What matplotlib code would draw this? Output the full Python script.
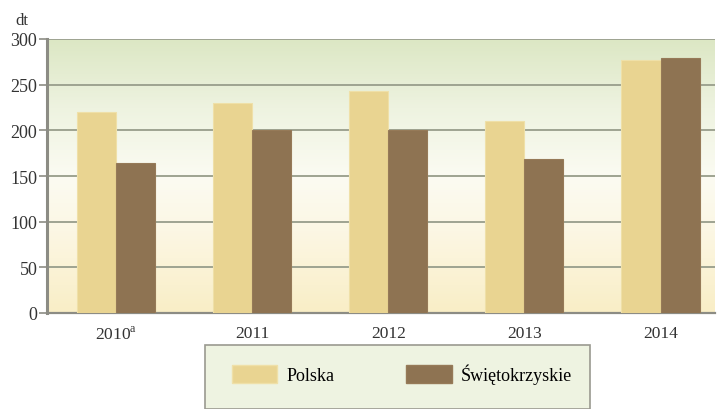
import matplotlib
matplotlib.use("Agg")
import matplotlib.pyplot as plt
import numpy as np
from matplotlib.colors import LinearSegmentedColormap
from matplotlib.patches import Rectangle, Patch

categories = ["2010$^{\\mathrm{a}}$", "2011", "2012", "2013", "2014"]
polska = [220, 230, 243, 210, 277]
swietokrzyskie = [164, 200, 200, 169, 279]
yticks = [0, 50, 100, 150, 200, 250, 300]
series_names = ["Polska", "Świętokrzyskie"]

plt.rcParams["font.family"] = ["Liberation Serif", "DejaVu Serif"]
plt.rcParams["mathtext.fontset"] = "custom"
plt.rcParams["mathtext.rm"] = "Liberation Serif"

W, H = 720, 410
fig = plt.figure(figsize=(W / 100, H / 100), dpi=100)
fig.patch.set_facecolor("white")
ax = fig.add_axes([47 / W, (H - 314) / H, (715 - 47) / W, (314 - 40) / H])

# background gradient
cmap = LinearSegmentedColormap.from_list(
    "bg", [(0.0, "#f9eec6"), (0.3, "#fcf7e4"), (0.5, "#fbfbf2"), (0.75, "#eef3e0"), (1.0, "#dce7c4")])
grad = np.linspace(0, 1, 256).reshape(-1, 1)
ax.imshow(grad, aspect="auto", cmap=cmap, origin="lower",
          extent=[0, 1, 0, 1], transform=ax.transAxes, zorder=0)

x = np.arange(len(categories))
bw = 0.287
ax.bar(x - bw / 2, polska, width=bw, color="#e9d491", edgecolor="#efe0a8", linewidth=0.8, zorder=3)
ax.bar(x + bw / 2, swietokrzyskie, width=bw, color="#8e7352", edgecolor="#967a58", linewidth=0.8, zorder=3)

ax.set_xlim(-0.507, 4.40)
ax.set_ylim(0, 300)
ax.set_yticks(yticks)
ax.set_yticklabels([str(v) for v in yticks], fontsize=13, color="#333333")
ax.set_xticks(x)
ax.set_xticklabels(categories, fontsize=12.5, color="#333333")
ax.tick_params(axis="x", length=0, pad=9)
ax.tick_params(axis="y", length=6, width=1.2, color="#8c8c84", pad=1)
ax.yaxis.grid(True, color="#9ea391", linewidth=1.4, zorder=1)
ax.set_axisbelow(True)
for s in ["top", "right"]:
    ax.spines[s].set_visible(False)
ax.spines["left"].set_color("#8c8c84")
ax.spines["left"].set_linewidth(2.2)
ax.spines["bottom"].set_color("#8c8c84")
ax.spines["bottom"].set_linewidth(1.6)

fig.text(22 / W, 1 - 21 / H, "dt", fontsize=12, color="#333333", ha="center", va="center")

# legend box
box = Rectangle((205 / W, 0), (590 - 205) / W, (H - 346) / H, transform=fig.transFigure,
                facecolor="#eef3e1", edgecolor="#9a9a90", linewidth=1.2, zorder=1)
fig.patches.append(box)
handles = [Patch(facecolor="#e9d491", edgecolor="#efe0a8"),
           Patch(facecolor="#8e7352", edgecolor="#967a58")]
fig.legend(handles, series_names, loc="center", bbox_to_anchor=(402 / W, 1 - 375 / H),
           ncol=2, frameon=False, fontsize=13, handlelength=2.5, handleheight=1.1,
           columnspacing=4.0, handletextpad=0.5)

fig.savefig("out.png", dpi=100)
